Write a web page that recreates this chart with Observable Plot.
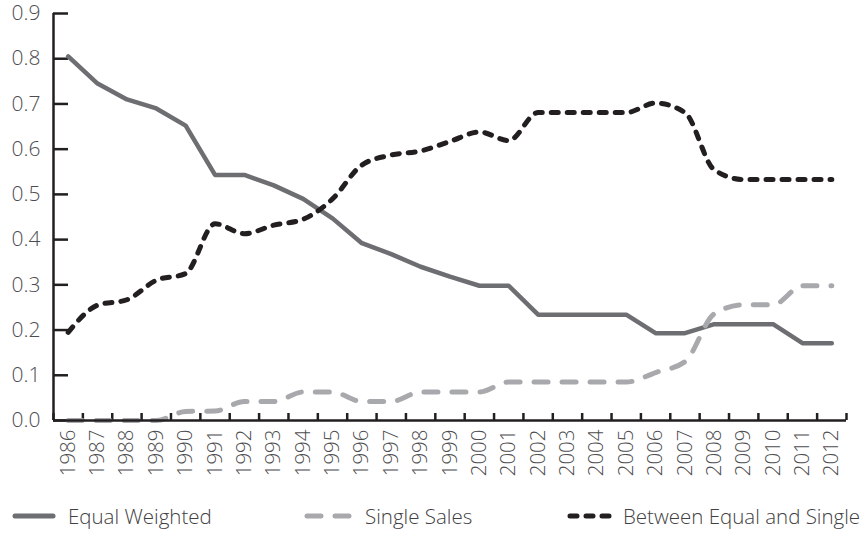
<!DOCTYPE html>
<html>
<head>
<meta charset="utf-8">
<script src="https://cdn.jsdelivr.net/npm/d3@7"></script>
<script src="https://cdn.jsdelivr.net/npm/@observablehq/plot@0.6"></script>
<style>
  body { margin: 0; background: #fff; font-family: "Open Sans", sans-serif; font-weight: 300; }
  #legend { position: relative; height: 46px; color: #414042; font-size: 20.5px; }
  .item { position: absolute; top: 12px; display: flex; align-items: center; white-space: nowrap; }
</style>
</head>
<body>
<div id="chart"></div>
<div id="legend"></div>
<script>
const years = [1986,1987,1988,1989,1990,1991,1992,1993,1994,1995,1996,1997,1998,1999,2000,2001,2002,2003,2004,2005,2006,2007,2008,2009,2010,2011,2012];
const equalWeighted = [0.805,0.745,0.71,0.69,0.652,0.543,0.543,0.52,0.49,0.447,0.392,0.368,0.34,0.318,0.298,0.298,0.234,0.234,0.234,0.234,0.193,0.193,0.213,0.213,0.213,0.171,0.171];
const singleSales = [0,0,0,0,0.02,0.021,0.042,0.042,0.063,0.063,0.042,0.042,0.063,0.063,0.063,0.085,0.085,0.085,0.085,0.085,0.106,0.13,0.236,0.256,0.256,0.298,0.298];
const betweenEqualSingle = [0.195,0.255,0.267,0.31,0.325,0.435,0.413,0.432,0.445,0.49,0.565,0.587,0.596,0.617,0.638,0.619,0.681,0.681,0.681,0.681,0.702,0.681,0.554,0.533,0.533,0.533,0.533];
const seriesNames = ["Equal Weighted", "Single Sales", "Between Equal and Single"];
const yTicks = [0,0.1,0.2,0.3,0.4,0.5,0.6,0.7,0.8,0.9];

const colors = {"Equal Weighted": "#6d6e71", "Single Sales": "#a7a9ac", "Between Equal and Single": "#231f20"};
const dashes = {"Equal Weighted": null, "Single Sales": "14,14", "Between Equal and Single": "7,9"};

const rowsEW = years.map((y, i) => ({year: y, value: equalWeighted[i]}));
const rowsSS = years.map((y, i) => ({year: y, value: singleSales[i]}));
const rowsBE = years.map((y, i) => ({year: y, value: betweenEqualSingle[i]}));
const boundaries = [years[0] - 0.5, ...years.map(y => y + 0.5)];

const textColor = "#4d4d4f";
const axisColor = "#231f20";

const chart = Plot.plot({
  width: 865,
  height: 490,
  marginLeft: 53,
  marginRight: 19,
  marginTop: 13,
  marginBottom: 70,
  style: {fontFamily: "Open Sans", fontWeight: 300, fontSize: "21px", color: textColor, background: "#fff"},
  x: {domain: [years[0] - 0.5, years[years.length - 1] + 0.5], label: null},
  y: {domain: [0, 0.9], label: null},
  marks: [
    Plot.axisY({ticks: yTicks, tickSize: -15, tickFormat: () => "", label: null, stroke: axisColor, strokeWidth: 2.5}),
    Plot.axisY({ticks: yTicks, tickSize: 0, tickPadding: 13, label: null, tickFormat: d => d.toFixed(1), fill: textColor, fontSize: 21}),
    Plot.axisX({ticks: boundaries, tickSize: -7, tickFormat: () => "", label: null, stroke: axisColor, strokeWidth: 2.5}),
    Plot.axisX({ticks: years, tickSize: 0, tickPadding: 9, tickRotate: -90, label: null, tickFormat: d => String(d), fill: textColor, fontSize: 20.5}),
    Plot.lineY(rowsEW, {x: "year", y: "value", stroke: colors["Equal Weighted"], strokeWidth: 4.5, strokeLinejoin: "round"}),
    Plot.lineY(rowsSS, {x: "year", y: "value", stroke: colors["Single Sales"], strokeWidth: 5, strokeDasharray: dashes["Single Sales"], strokeLinecap: "round", curve: "monotone-x"}),
    Plot.lineY(rowsBE, {x: "year", y: "value", stroke: colors["Between Equal and Single"], strokeWidth: 5, strokeDasharray: dashes["Between Equal and Single"], strokeLinecap: "round", curve: "monotone-x"}),
    Plot.ruleX([years[0] - 0.5], {y1: 0, y2: 0.9, stroke: axisColor, strokeWidth: 2.5}),
    Plot.ruleY([0], {stroke: axisColor, strokeWidth: 2.5})
  ]
});
document.getElementById("chart").appendChild(chart);

const legend = document.getElementById("legend");
const sampleStart = [13, 305, 568];
const sampleEnd = [55, 355, 612];
const textStart = [68, 365, 623];
seriesNames.forEach((name, i) => {
  const item = document.createElement("div");
  item.className = "item";
  item.style.left = sampleStart[i] + "px";
  const dash = dashes[name];
  const w = sampleEnd[i] - sampleStart[i];
  item.innerHTML = `<svg width="${w + 4}" height="10" style="margin-left:-2px;margin-right:${textStart[i] - sampleEnd[i] - 2}px"><line x1="4" y1="5" x2="${w}" y2="5" stroke="${colors[name]}" stroke-width="5" stroke-linecap="round" ${dash ? `stroke-dasharray="${dash}"` : ""}/></svg><span>${name}</span>`;
  legend.appendChild(item);
});
</script>
</body>
</html>
